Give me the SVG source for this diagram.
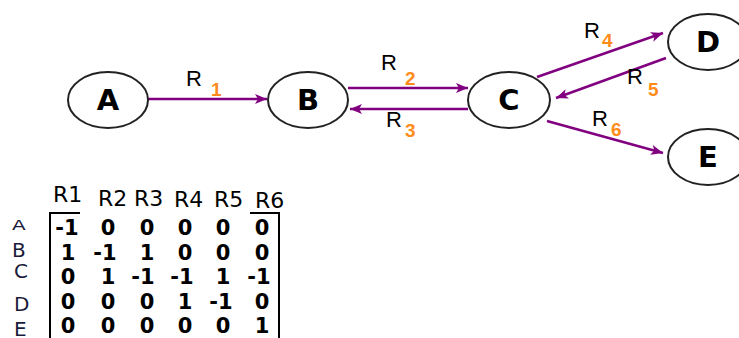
<svg xmlns="http://www.w3.org/2000/svg" width="739" height="338" viewBox="0 0 739 338">
<defs>
<marker id="ah" viewBox="0 0 12 10" refX="12" refY="5" markerWidth="12" markerHeight="10" markerUnits="userSpaceOnUse" orient="auto">
<path d="M0,0 L12,5 L0,10 L3,5 Z" fill="#800080"/>
</marker>
</defs>
<style>
.node{fill:#fff;stroke:#222;stroke-width:2}
.nl{font-family:"DejaVu Sans",sans-serif;font-weight:bold;font-size:29px;fill:#000;text-anchor:middle}
.edge{stroke:#800080;stroke-width:2.5;fill:none;marker-end:url(#ah)}
.r{font-family:"Liberation Sans",Arial,sans-serif;font-size:22px;fill:#000}
.s{font-family:"Liberation Sans",Arial,sans-serif;font-weight:bold;font-size:19px;fill:#ff8c1a}
.h{font-family:"DejaVu Sans",sans-serif;font-size:22px;fill:#000}
.rl{font-family:"DejaVu Sans",sans-serif;font-size:20px;fill:#1a1a3a}
.m{font-family:"DejaVu Sans",sans-serif;font-weight:bold;font-size:21px;fill:#000;text-anchor:middle}
.br{stroke:#000;stroke-width:2;fill:none}
</style>
<rect width="739" height="338" fill="#fff"/>
<g id="connectors">
<line class="edge" x1="148" y1="99" x2="267" y2="99"/>
<line class="edge" x1="348" y1="88" x2="468" y2="88"/>
<line class="edge" x1="468" y1="109" x2="350" y2="109"/>
<line class="edge" x1="537" y1="77" x2="663" y2="33"/>
<line class="edge" x1="666" y1="58" x2="556" y2="98"/>
<line class="edge" x1="547" y1="121" x2="663" y2="153"/>
<text class="r" x="186" y="86">R</text><text class="s" x="211" y="96">1</text>
<text class="r" x="381" y="70">R</text><text class="s" x="405" y="85">2</text>
<text class="r" x="386" y="127">R</text><text class="s" x="405" y="137">3</text>
<text class="r" x="584" y="38">R</text><text class="s" x="602" y="47">4</text>
<text class="r" x="627" y="84">R</text><text class="s" x="648" y="96">5</text>
<text class="r" x="592" y="126">R</text><text class="s" x="611" y="136">6</text>
</g>
<g id="node-A"><ellipse class="node" cx="108" cy="100" rx="40" ry="28"/><text class="nl" x="108" y="110">A</text></g>
<g id="node-B"><ellipse class="node" cx="308" cy="100" rx="40" ry="28"/><text class="nl" x="308" y="110">B</text></g>
<g id="node-C"><ellipse class="node" cx="509" cy="100" rx="41" ry="28"/><text class="nl" x="509" y="110">C</text></g>
<g id="node-D"><ellipse class="node" cx="708" cy="42" rx="40" ry="28"/><text class="nl" x="708" y="52">D</text></g>
<g id="node-E"><ellipse class="node" cx="708" cy="157" rx="40" ry="28"/><text class="nl" x="708" y="167">E</text></g>
<g id="matrix">
<text class="h" x="53" y="202">R1</text>
<text class="h" x="98" y="206">R2</text>
<text class="h" x="134" y="206">R3</text>
<text class="h" x="174" y="207">R4</text>
<text class="h" x="214" y="207">R5</text>
<text class="h" x="255" y="208">R6</text>
<text class="rl" x="12" y="230" transform="translate(0,69) scale(1,0.7)">A</text>
<text class="rl" x="12" y="257">B</text>
<text class="rl" x="14" y="278">C</text>
<text class="rl" x="14" y="311">D</text>
<text class="rl" x="14" y="336">E</text>
<path class="br" d="M80,213 H50 V338"/>
<path class="br" d="M250,213 H279 V338"/>
<text class="m" y="235"><tspan x="67">-1</tspan><tspan x="108">0</tspan><tspan x="147">0</tspan><tspan x="185">0</tspan><tspan x="223">0</tspan><tspan x="262">0</tspan></text>
<text class="m" y="260"><tspan x="68">1</tspan><tspan x="105">-1</tspan><tspan x="147">1</tspan><tspan x="185">0</tspan><tspan x="223">0</tspan><tspan x="262">0</tspan></text>
<text class="m" y="284"><tspan x="68">0</tspan><tspan x="108">1</tspan><tspan x="143">-1</tspan><tspan x="182">-1</tspan><tspan x="223">1</tspan><tspan x="259">-1</tspan></text>
<text class="m" y="309"><tspan x="68">0</tspan><tspan x="108">0</tspan><tspan x="147">0</tspan><tspan x="185">1</tspan><tspan x="221">-1</tspan><tspan x="262">0</tspan></text>
<text class="m" y="333"><tspan x="68">0</tspan><tspan x="108">0</tspan><tspan x="147">0</tspan><tspan x="185">0</tspan><tspan x="223">0</tspan><tspan x="262">1</tspan></text>
</g>
</svg>
